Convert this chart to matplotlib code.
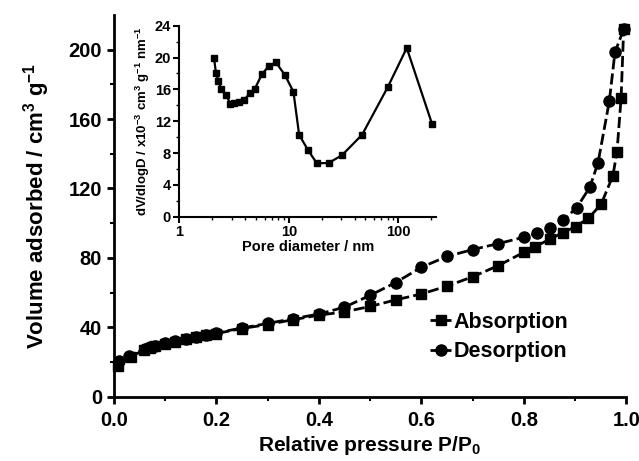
import matplotlib
matplotlib.use("Agg")
import matplotlib.pyplot as plt
from matplotlib.ticker import MultipleLocator, LogLocator, NullFormatter, FixedLocator

plt.rcParams["font.family"] = ["Liberation Sans", "DejaVu Sans"]
plt.rcParams["font.weight"] = "bold"
plt.rcParams["axes.labelweight"] = "bold"
plt.rcParams["mathtext.fontset"] = "custom"
plt.rcParams["mathtext.rm"] = "Liberation Sans:bold"
plt.rcParams["mathtext.bf"] = "Liberation Sans:bold"
plt.rcParams["mathtext.default"] = "bf"

# isotherm, adsorption branch
ads_p = [0.008, 0.033, 0.059, 0.071, 0.08, 0.1, 0.12, 0.14, 0.16, 0.18, 0.2,
         0.25, 0.3, 0.35, 0.4, 0.45, 0.5, 0.55, 0.6, 0.65, 0.7, 0.75, 0.8,
         0.822, 0.852, 0.876, 0.901, 0.926, 0.951, 0.974, 0.982, 0.99, 0.995]
ads_v = [17.5, 23.0, 27.0, 28.2, 29.0, 30.4, 31.6, 33.0, 34.2, 35.3, 36.4,
         39.3, 41.6, 44.4, 47.0, 48.9, 52.0, 55.8, 59.2, 63.7, 69.1, 75.5, 83.2,
         86.5, 90.9, 94.5, 98.0, 102.8, 110.9, 127.4, 141.2, 172.0, 211.7]

# isotherm, desorption branch
des_p = [0.995, 0.978, 0.967, 0.945, 0.929, 0.903, 0.877, 0.852, 0.826, 0.8,
         0.75, 0.7, 0.65, 0.6, 0.55, 0.5, 0.45, 0.4, 0.35, 0.3, 0.25, 0.2,
         0.18, 0.16, 0.14, 0.12, 0.1, 0.08, 0.07, 0.06, 0.03, 0.01]
des_v = [211.7, 198.5, 170.3, 134.9, 120.7, 108.8, 101.8, 97.0, 94.2, 91.9,
         88.2, 84.8, 80.8, 74.6, 65.8, 58.4, 51.6, 47.6, 45.0, 42.2, 39.6, 36.8,
         35.7, 34.6, 33.4, 32.0, 30.8, 29.4, 28.6, 27.6, 23.4, 20.3]

# pore size distribution (inset)
pore_d = [2.07, 2.16, 2.27, 2.40, 2.67, 2.92, 3.17, 3.5, 3.92, 4.41, 4.9,
          5.68, 6.53, 7.6, 9.2, 11.0, 12.4, 14.9, 18.0, 23.0, 30.4, 46.6,
          80.0, 119, 202]
pore_dv = [20.0, 18.1, 17.1, 16.1, 15.3, 14.2, 14.3, 14.4, 14.7, 15.5, 16.1,
           17.9, 18.9, 19.4, 17.8, 15.7, 10.3, 8.4, 6.7, 6.75, 7.7, 10.3,
           16.3, 21.2, 11.7]

fig = plt.figure(figsize=(6.39, 4.61), dpi=100)
ax = fig.add_axes([0.1784, 0.1395, 0.8016, 0.828])

ax.plot(ads_p, ads_v, "k--", marker="s", markersize=7.5, linewidth=2,
        dashes=(4, 1.5), label="Absorption", clip_on=False)
ax.plot(des_p, des_v, "k--", marker="o", markersize=8, linewidth=2,
        dashes=(4, 1.5), label="Desorption", clip_on=False)

ax.set_xlim(0, 1.0)
ax.set_ylim(0, 220)
ax.xaxis.set_major_locator(MultipleLocator(0.2))
ax.xaxis.set_minor_locator(MultipleLocator(0.1))
ax.yaxis.set_major_locator(FixedLocator([0, 40, 80, 120, 160, 200]))
ax.yaxis.set_minor_locator(FixedLocator([20, 60, 100, 140, 180]))
ax.spines["top"].set_visible(False)
ax.spines["right"].set_visible(False)
for s in ["left", "bottom"]:
    ax.spines[s].set_linewidth(2)
ax.tick_params(which="major", length=5, width=2, labelsize=14.5)
ax.tick_params(axis="x", which="major", pad=5)
ax.tick_params(which="minor", length=3, width=1.5)
ax.xaxis.set_major_formatter(plt.FuncFormatter(lambda v, p: f"{v:.1f}"))

ax.set_xlabel("Relative pressure P/P$_0$", fontsize=15, fontweight="bold", labelpad=3)
ax.set_ylabel("Volume adsorbed / cm$^3$ g$^{-1}$", fontsize=16, fontweight="bold", labelpad=12)

leg = ax.legend(loc="upper left", bbox_to_anchor=(0.6, 0.245), frameon=False,
                prop={"size": 15.5, "weight": "bold"}, handlelength=1.0,
                handletextpad=0.1, labelspacing=0.4, borderaxespad=0)

# inset
ins = fig.add_axes([0.2806, 0.530, 0.4017, 0.4143])
ins.plot(pore_d, pore_dv, "k-", marker="s", markersize=5, linewidth=1.6)
ins.set_xscale("log")
ins.set_xlim(1, 220)
ins.set_ylim(0, 24)
ins.yaxis.set_major_locator(MultipleLocator(4))
ins.yaxis.set_minor_locator(MultipleLocator(2))
ins.xaxis.set_major_locator(LogLocator(base=10))
ins.xaxis.set_minor_locator(LogLocator(base=10, subs=range(2, 10)))
ins.xaxis.set_minor_formatter(NullFormatter())
ins.xaxis.set_major_formatter(plt.FuncFormatter(lambda v, p: f"{v:g}"))
ins.spines["top"].set_visible(False)
ins.spines["right"].set_visible(False)
for s in ["left", "bottom"]:
    ins.spines[s].set_linewidth(1.5)
ins.tick_params(which="major", length=4, width=1.5, labelsize=10.5, pad=2)
ins.tick_params(which="minor", length=2, width=1)
ins.set_xlabel("Pore diameter / nm", fontsize=10.5, fontweight="bold", labelpad=1)
ins.set_ylabel("dV/dlogD / x10$^{-3}$ cm$^3$ g$^{-1}$ nm$^{-1}$", fontsize=9.5,
               fontweight="bold", labelpad=2)

for a in (ax, ins):
    for t in a.get_xticklabels() + a.get_yticklabels():
        t.set_fontweight("bold")

fig.savefig("out.png", dpi=100)
